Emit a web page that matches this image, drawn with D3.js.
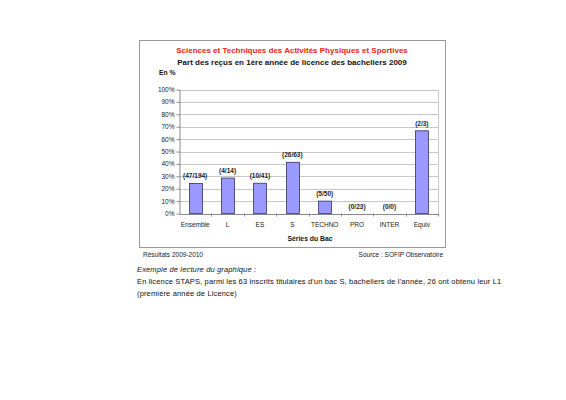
<!DOCTYPE html>
<html>
<head>
<meta charset="utf-8">
<script src="https://cdn.jsdelivr.net/npm/d3@7"></script>
<style>
  body { margin: 0; background: #fff; }
  svg text { font-family: "Liberation Sans", Arial, sans-serif; }
</style>
</head>
<body>
<svg id="chart" width="566" height="400"></svg>
<script>
// data
const series = ["Ensemble", "L", "ES", "S", "TECHNO", "PRO", "INTER", "Equiv"];
const pcts = [24.2, 28.6, 24.4, 41.3, 10, 0, 0, 66.7];
const counts = ["(47/194)", "(4/14)", "(10/41)", "(26/63)", "(5/50)", "(0/23)", "(0/0)", "(2/3)"];
const yTicks = [0, 10, 20, 30, 40, 50, 60, 70, 80, 90, 100];

const svg = d3.select("#chart");

// outer frame
svg.append("rect")
  .attr("x", 139.5).attr("y", 40.5)
  .attr("width", 306).attr("height", 207)
  .attr("fill", "#fff").attr("stroke", "#999").attr("stroke-width", 1);

const plot = { left: 179, right: 438, top: 89.5, bottom: 213.5 };

const x = d3.scaleBand().domain(series).range([plot.left, plot.right]);
const y = d3.scaleLinear().domain([0, 100]).range([plot.bottom, plot.top]);

// grid
svg.append("g")
  .selectAll("line")
  .data(yTicks.filter(d => d > 0))
  .join("line")
  .attr("x1", plot.left).attr("x2", plot.right)
  .attr("y1", d => Math.round(y(d)) + 0.5).attr("y2", d => Math.round(y(d)) + 0.5)
  .attr("stroke", "#c8c8c8");

// right border of plot
svg.append("line")
  .attr("x1", plot.right + 0.5).attr("x2", plot.right + 0.5)
  .attr("y1", y(100)).attr("y2", plot.bottom)
  .attr("stroke", "#c8c8c8");

// y axis
const yAxis = svg.append("g")
  .attr("transform", `translate(${plot.left + 0.5},0)`)
  .call(d3.axisLeft(y).tickValues(yTicks).tickFormat(d => d + "%").tickSize(3).tickSizeOuter(0));
yAxis.select(".domain").attr("stroke", "#888");
yAxis.selectAll(".tick line").attr("stroke", "#888");
yAxis.selectAll(".tick text")
  .attr("font-size", 6.5).attr("fill", "#222").attr("x", -5);

// x axis
const xAxis = svg.append("g")
  .attr("transform", `translate(0,${plot.bottom + 0.5})`)
  .call(d3.axisBottom(x).tickSize(0).tickSizeOuter(0));
xAxis.select(".domain").attr("stroke", "#888");
xAxis.selectAll(".tick text")
  .attr("font-size", 6.5).attr("fill", "#222").attr("y", 8);
// tick marks between categories
svg.append("g")
  .selectAll("line")
  .data(series)
  .join("line")
  .attr("x1", d => Math.round(x(d) + x.bandwidth()) + 0.5)
  .attr("x2", d => Math.round(x(d) + x.bandwidth()) + 0.5)
  .attr("y1", plot.bottom).attr("y2", plot.bottom + 3)
  .attr("stroke", "#888");

// bars
const bw = 13;
svg.append("g")
  .selectAll("rect")
  .data(series)
  .join("rect")
  .filter((d, i) => pcts[i] > 0)
  .attr("x", d => Math.round(x(d) + x.bandwidth() / 2 - bw / 2) + 0.5)
  .attr("y", (d) => y(pcts[series.indexOf(d)]))
  .attr("width", bw)
  .attr("height", d => plot.bottom - y(pcts[series.indexOf(d)]))
  .attr("fill", "#9999ff")
  .attr("stroke", "#333366")
  .attr("stroke-width", 0.8);

// value labels
svg.append("g")
  .selectAll("text")
  .data(series)
  .join("text")
  .attr("x", d => x(d) + x.bandwidth() / 2)
  .attr("y", (d, i) => y(pcts[i]) - 5)
  .attr("text-anchor", "middle")
  .attr("font-size", 6.5)
  .attr("font-weight", "bold")
  .attr("fill", "#222")
  .text((d, i) => counts[i]);

// titles
svg.append("text")
  .attr("x", 292).attr("y", 53)
  .attr("text-anchor", "middle")
  .attr("font-size", 8).attr("font-weight", "bold").attr("fill", "#ee2222")
  .text("Sciences et Techniques des Activités Physiques et Sportives");
svg.append("text")
  .attr("x", 292).attr("y", 65)
  .attr("text-anchor", "middle")
  .attr("font-size", 8).attr("font-weight", "bold").attr("fill", "#111")
  .text("Part des reçus en 1ère année de licence des bacheliers 2009");
svg.append("text")
  .attr("x", 159).attr("y", 75)
  .attr("font-size", 6.8).attr("font-weight", "bold").attr("fill", "#111")
  .text("En %");
svg.append("text")
  .attr("x", 310).attr("y", 241)
  .attr("text-anchor", "middle")
  .attr("font-size", 6.8).attr("font-weight", "bold").attr("fill", "#111")
  .text("Séries du Bac");

// footer
svg.append("text")
  .attr("x", 143).attr("y", 257)
  .attr("font-size", 6.5).attr("fill", "#222")
  .text("Résultats 2009-2010");
svg.append("text")
  .attr("x", 443).attr("y", 257)
  .attr("text-anchor", "end")
  .attr("font-size", 6.5).attr("fill", "#222")
  .text("Source : SOFIP Observatoire");

// reading example
const note = svg.append("g")
  .attr("font-family", "'DejaVu Sans', sans-serif")
  .attr("fill", "#111")
  .attr("letter-spacing", 0.15);
note.append("text")
  .attr("x", 137).attr("y", 272)
  .attr("font-size", 7.5).attr("font-style", "italic")
  .text("Exemple de lecture du graphique :");
note.append("text")
  .attr("x", 137).attr("y", 284)
  .attr("font-size", 7.5)
  .text("En licence STAPS, parmi les 63 inscrits titulaires d'un bac S, bacheliers de l'année, 26 ont obtenu leur L1");
note.append("text")
  .attr("x", 137).attr("y", 296)
  .attr("font-size", 7.5)
  .text("(première année de Licence)");
</script>
</body>
</html>
